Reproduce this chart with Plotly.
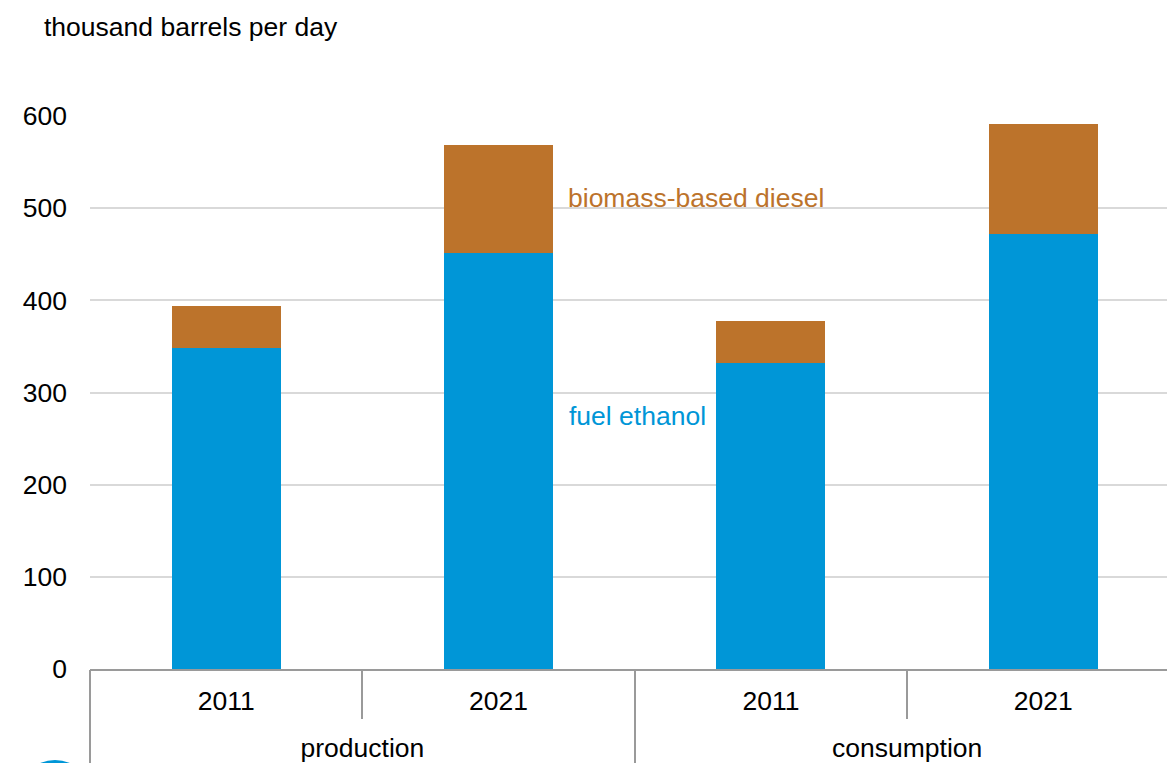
import plotly.graph_objects as go

# Renewable fuels, thousand barrels per day
groups = ["production", "consumption"]
years = ["2011", "2021", "2011", "2021"]
fuel_ethanol = [348, 451, 332, 472]
biomass_diesel = [46, 118, 46, 119]

BLUE = "#0096D7"
BROWN = "#BC732B"
AXIS_GRAY = "#9A9A9A"
FONT = "Liberation Sans, Arial, sans-serif"
FS = 26.5

# one slot per bar; each group spans two consecutive slots
pos = list(range(len(years)))
group_pos = [(2 * i + 0.5) for i in range(len(groups))]
x_range = [-0.5, 3.454]

fig = go.Figure()
fig.add_trace(go.Bar(
    x=pos, y=fuel_ethanol, name="fuel ethanol",
    marker=dict(color=BLUE, line=dict(width=0)), width=0.4,
))
fig.add_trace(go.Bar(
    x=pos, y=biomass_diesel, name="biomass-based diesel",
    marker=dict(color=BROWN, line=dict(width=0)), width=0.4,
))
# empty trace so the group-label axis gets drawn
fig.add_trace(go.Scatter(x=[], y=[], xaxis="x2", yaxis="y", showlegend=False))

fig.update_layout(
    barmode="stack",
    width=1167, height=763,
    margin=dict(l=90, r=0, t=116, b=94),
    paper_bgcolor="white", plot_bgcolor="white",
    showlegend=False,
    font=dict(family=FONT, size=FS, color="#000000"),
    xaxis=dict(
        range=x_range,
        tickvals=pos, ticktext=years,
        showline=True, linecolor=AXIS_GRAY, linewidth=2,
        ticks="", showgrid=False, zeroline=False,
        ticklabelstandoff=7,
        minor=dict(ticks="outside", tick0=-0.5, dtick=1, ticklen=48,
                   tickcolor=AXIS_GRAY, tickwidth=2, showgrid=False),
        tickfont=dict(family=FONT, size=FS, color="#000000"),
    ),
    xaxis2=dict(
        overlaying="x", anchor="y", side="bottom",
        range=x_range,
        tickvals=group_pos, ticktext=groups,
        showline=False, ticks="", showgrid=False, zeroline=False,
        ticklabelstandoff=60,
        minor=dict(ticks="outside", tick0=-0.5, dtick=2, ticklen=94,
                   tickcolor=AXIS_GRAY, tickwidth=2, showgrid=False),
        tickfont=dict(family=FONT, size=FS, color="#000000"),
    ),
    yaxis=dict(
        range=[0, 600],
        tickvals=[0, 100, 200, 300, 400, 500, 600],
        showgrid=True, gridcolor="#D9D9D9", gridwidth=1.5,
        zeroline=False, showline=False,
        ticks="", ticklabelstandoff=22,
        tickfont=dict(family=FONT, size=FS, color="#000000"),
    ),
    annotations=[
        dict(text="thousand barrels per day", xref="paper", yref="paper",
             x=(42 - 90) / 1077, y=(669 - 27) / 553, xanchor="left", yanchor="middle",
             showarrow=False, font=dict(family=FONT, size=FS, color="#000000")),
        dict(text="biomass-based diesel", xref="paper", yref="y",
             x=(566 - 90) / 1077, y=511, xanchor="left", yanchor="middle",
             showarrow=False, font=dict(family=FONT, size=FS, color=BROWN)),
        dict(text="fuel ethanol", xref="paper", yref="y",
             x=(567 - 90) / 1077, y=274, xanchor="left", yanchor="middle",
             showarrow=False, font=dict(family=FONT, size=FS, color=BLUE)),
    ],
    shapes=[
        # corner logo mark, mostly below the page edge
        dict(type="circle", xref="paper", yref="paper",
             x0=(18 - 90) / 1077, x1=(92 - 90) / 1077,
             y0=(669 - 834) / 553, y1=(669 - 760) / 553,
             fillcolor=BLUE, line=dict(width=0), layer="above"),
    ],
)

fig.write_html("out.html")
